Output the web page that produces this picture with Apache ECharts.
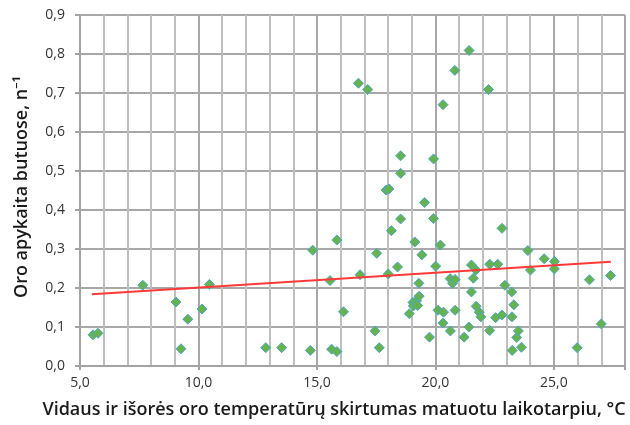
<!DOCTYPE html>
<html>
<head>
<meta charset="utf-8">
<script src="https://cdn.jsdelivr.net/npm/echarts@6/dist/echarts.min.js"></script>
<style>
html,body{margin:0;padding:0;background:#fff;}
#chart{width:630px;height:425px;}
</style>
</head>
<body>
<div id="chart"></div>
<script>
// Temperature difference (°C)
const tempDiff = [5.55,5.76,7.65,9.05,9.26,9.55,10.15,10.46,12.84,13.51,
  14.72,14.82,15.55,15.62,15.84,15.84,16.12,16.75,16.82,17.14,
  17.45,17.52,17.63,17.92,18.04,18.01,18.14,18.40,18.53,18.53,
  18.53,18.90,19.05,19.07,19.13,19.20,19.25,19.30,19.31,19.43,
  19.54,19.75,19.92,19.92,20.01,20.11,20.21,20.32,20.34,20.32,
  20.62,20.63,20.72,20.83,20.82,20.83,21.21,21.41,21.42,21.52,
  21.52,21.60,21.71,21.72,21.85,21.92,22.24,22.29,22.29,22.54,
  22.63,22.81,22.81,22.93,23.22,23.23,23.24,23.31,23.43,23.50,
  23.63,23.90,24.01,24.59,25.02,25.02,25.98,26.50,27.00,27.39];
// Air exchange rate (1/h)
const airChange = [0.080,0.084,0.207,0.164,0.044,0.120,0.146,0.209,0.047,0.047,
  0.040,0.297,0.219,0.043,0.037,0.323,0.139,0.725,0.234,0.709,
  0.090,0.289,0.047,0.451,0.454,0.236,0.347,0.254,0.539,0.494,
  0.377,0.134,0.163,0.154,0.318,0.167,0.155,0.212,0.179,0.285,
  0.419,0.074,0.531,0.378,0.256,0.143,0.310,0.670,0.138,0.110,
  0.224,0.090,0.212,0.222,0.758,0.143,0.074,0.100,0.809,0.190,
  0.259,0.225,0.246,0.153,0.138,0.126,0.709,0.261,0.091,0.124,
  0.261,0.353,0.131,0.207,0.190,0.126,0.040,0.157,0.073,0.090,
  0.048,0.296,0.246,0.275,0.268,0.249,0.047,0.221,0.108,0.232];
// Trend line end points
const trendX = [5.5, 27.4];
const trendY = [0.184, 0.267];

const xTitle = 'Vidaus ir išorės oro temperatūrų skirtumas matuotu laikotarpiu, °C';
const yTitle = 'Oro apykaita butuose, n⁻¹';

const fmt = v => v.toFixed(1).replace('.', ',');
const FONT = '"Open Sans", "Noto Sans", sans-serif';

const chart = echarts.init(document.getElementById('chart'), null, {renderer:'canvas'});
chart.setOption({
  animation: false,
  backgroundColor: '#ffffff',
  grid: {left: 80, right: 5, top: 15, bottom: 59, containLabel: false},
  xAxis: {
    type: 'value', min: 5, max: 28, interval: 5,
    axisLine: {show: true, lineStyle: {color: '#a3a3a3', width: 2}},
    axisTick: {show: true, length: 4, lineStyle: {color: '#a3a3a3', width: 2}},
    axisLabel: {show: true, margin: 10, fontSize: 14, color: '#333',
      fontFamily: FONT, formatter: v => (v % 5 === 0 && v < 28) ? fmt(v) : ''},
    splitLine: {show: true, lineStyle: {color: '#a8a8a8', width: 2}},
    minorTick: {show: false, splitNumber: 5},
    minorSplitLine: {show: true, lineStyle: {color: '#bfbfbf', width: 2}}
  },
  yAxis: {
    type: 'value', min: 0, max: 0.9, interval: 0.1,
    axisLine: {show: true, lineStyle: {color: '#a3a3a3', width: 2}},
    axisTick: {show: true, length: 5, lineStyle: {color: '#a3a3a3', width: 2}},
    axisLabel: {fontSize: 14, color: '#333', margin: 15, fontFamily: FONT, formatter: v => fmt(v)},
    splitLine: {show: true, lineStyle: {color: '#a8a8a8', width: 2}}
  },
  graphic: [{
    type: 'text', x: 334, y: 410,
    style: {text: xTitle, font: '600 18px ' + FONT, fill: '#1a1a1a',
      textAlign: 'center', textVerticalAlign: 'middle'}
  }, {
    type: 'text', x: 22, y: 187, rotation: Math.PI / 2,
    style: {text: yTitle, font: '600 18px ' + FONT, fill: '#1a1a1a',
      textAlign: 'center', textVerticalAlign: 'middle'}
  }],
  series: [{
    type: 'scatter',
    symbol: 'diamond', symbolSize: 10,
    itemStyle: {color: '#66B24E', borderColor: '#4AA8C8', borderWidth: 1, opacity: 1},
    data: tempDiff.map((x, i) => [x, airChange[i]]),
    z: 3
  }, {
    type: 'line',
    data: trendX.map((x, i) => [x, trendY[i]]),
    symbol: 'none',
    lineStyle: {color: '#FF3838', width: 2},
    z: 4
  }]
});
</script>
</body>
</html>
